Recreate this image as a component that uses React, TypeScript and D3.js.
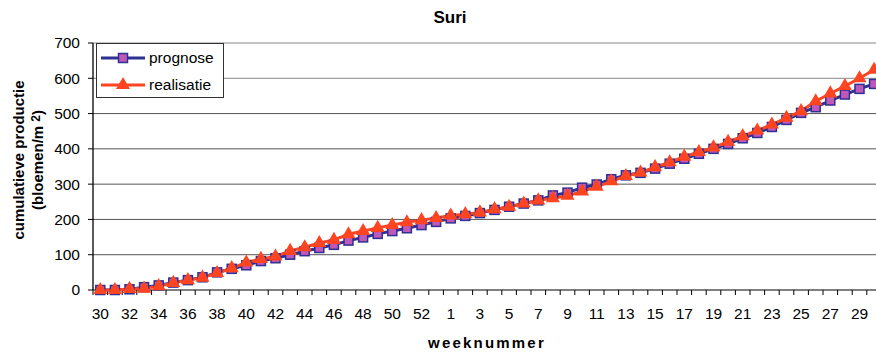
import React from "react";
import * as d3 from "d3";

const weeks: string[] = [
  "30","31","32","33","34","35","36","37","38","39","40","41","42","43","44","45","46","47","48","49","50","51","52","53",
  "1","2","3","4","5","6","7","8","9","10","11","12","13","14","15","16","17","18","19","20","21","22","23","24","25","26","27","28","29","30",
];

const prognose: number[] = [
  0, 0, 2, 8, 13, 21, 28, 36, 50, 60, 70, 82, 90, 100, 110, 119, 128, 140, 149, 159, 167, 175, 184, 193,
  203, 210, 218, 227, 236, 245, 254, 268, 276, 290, 299, 314, 325, 332, 344, 358, 372, 386, 400, 414, 430, 445, 462, 482, 502, 518, 537, 554, 570, 584,
];

const realisatie: number[] = [
  0, 0, 3, 4, 11, 20, 28, 35, 48, 62, 78, 88, 95, 111, 121, 133, 142, 158, 167, 176, 184, 192, 198, 204,
  211, 215, 220, 229, 236, 245, 254, 260, 267, 279, 293, 308, 323, 333, 348, 362, 378, 391, 404, 420, 436, 452, 469, 488, 507, 535, 557, 578, 600, 624,
];

const yTicks: number[] = [0, 100, 200, 300, 400, 500, 600, 700];

const seriesNames = ["prognose", "realisatie"];

const W = 876;
const H = 353;
const FONT = "Arial, 'Liberation Sans', sans-serif";

export default function App() {
  const left = 93;
  const bw = 14.6;
  const x = d3
    .scaleBand<number>()
    .domain(weeks.map((_, i) => i))
    .range([left, left + bw * weeks.length])
    .padding(0);
  const cx = (i: number) => (x(i) as number) + x.bandwidth() / 2;
  const y = d3.scaleLinear().domain([0, 700]).range([290, 43]);

  const line = d3
    .line<number>()
    .x((_, i) => cx(i))
    .y((d) => y(d));

  const navy = "#2E3192";
  const magenta = "#C058BA";
  const red = "#FF4422";

  const tri = d3.symbol().type(d3.symbolTriangle).size(85)();

  const boundaries = d3.range(weeks.length + 1).map((i) => left + bw * i);

  return (
    <div style={{ position: "absolute", left: 0, top: 0 }}>
      <svg width={W} height={H} style={{ display: "block", background: "#fff" }} fontFamily={FONT}>
        {/* gridlines */}
        {yTicks.map((t) => (
          <line
            key={"g" + t}
            x1={left}
            x2={W}
            y1={y(t)}
            y2={y(t)}
            stroke={t === 0 ? "#000" : t >= 600 ? "#888" : "#555"}
            strokeWidth={1}
          />
        ))}
        {/* y axis */}
        <line x1={left} x2={left} y1={y(700)} y2={y(0)} stroke="#000" strokeWidth={1.3} />
        {yTicks.map((t) => (
          <g key={"yt" + t}>
            <line x1={left - 5} x2={left} y1={y(t)} y2={y(t)} stroke="#000" />
            <text x={80} y={y(t)} dy="0.35em" textAnchor="end" fontSize={15.5} fill="#000">
              {t}
            </text>
          </g>
        ))}
        {/* x axis ticks */}
        {boundaries.map((b, i) => (
          <line key={"xt" + i} x1={b} x2={b} y1={y(0)} y2={y(0) + 5} stroke="#000" />
        ))}
        {weeks.map((w, i) =>
          i % 2 === 0 ? (
            <text key={"xl" + i} x={cx(i)} y={319} textAnchor="middle" fontSize={15.5} fill="#000">
              {w}
            </text>
          ) : null
        )}
        {/* series lines */}
        <path d={line(prognose) || ""} fill="none" stroke={navy} strokeWidth={3} />
        <path d={line(realisatie) || ""} fill="none" stroke={red} strokeWidth={3} />
        {prognose.map((v, i) => (
          <rect
            key={"p" + i}
            x={cx(i) - 4.5}
            y={y(v) - 4.5}
            width={9}
            height={9}
            fill={magenta}
            stroke={navy}
            strokeWidth={1.5}
          />
        ))}
        {realisatie.map((v, i) => (
          <path key={"r" + i} d={tri || ""} transform={`translate(${cx(i)},${y(v)})`} fill={red} />
        ))}
        {/* legend */}
        <rect x={96.5} y={43.5} width={127} height={54} fill="#fff" stroke="#333" strokeWidth={1} />
        <line x1={101} x2={145} y1={58} y2={58} stroke={navy} strokeWidth={3} />
        <rect x={118.5} y={53.5} width={9} height={9} fill={magenta} stroke={navy} strokeWidth={1.5} />
        <text x={149} y={58} dy="0.35em" fontSize={15.5} fill="#000">
          {seriesNames[0]}
        </text>
        <line x1={101} x2={145} y1={85} y2={85} stroke={red} strokeWidth={3} />
        <path d={tri || ""} transform="translate(123,85)" fill={red} />
        <text x={149} y={85} dy="0.35em" fontSize={15.5} fill="#000">
          {seriesNames[1]}
        </text>
        {/* title */}
        <text x={450} y={23} textAnchor="middle" fontSize={17} fontWeight="bold" fill="#000">
          Suri
        </text>
        {/* x title */}
        <text x={487} y={348} textAnchor="middle" fontSize={15} fontWeight="bold" letterSpacing={2.2} fill="#000">
          weeknummer
        </text>
        {/* y title */}
        <g transform="translate(24,160) rotate(-90)">
          <text x={0} y={0} textAnchor="middle" fontSize={15} fontWeight="bold" fill="#000">
            cumulatieve productie
          </text>
          <text x={0} y={19} textAnchor="middle" fontSize={15} fontWeight="bold" fill="#000">
            (bloemen/m <tspan dy={-3} fontSize={12}>2</tspan><tspan dy={3}>)</tspan>
          </text>
        </g>
      </svg>
    </div>
  );
}
